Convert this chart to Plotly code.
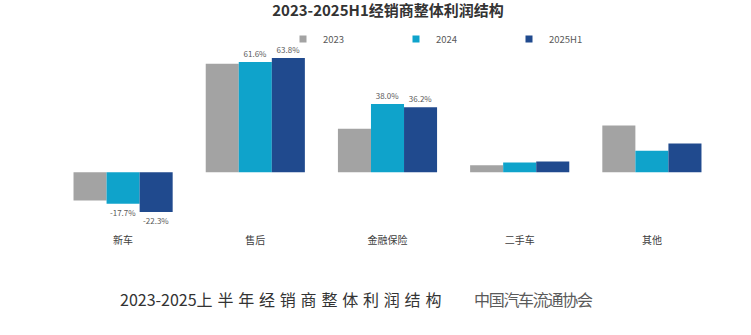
import plotly.graph_objects as go

categories = ["新车", "售后", "金融保险", "二手车", "其他"]
series_names = ["2023", "2024", "2025H1"]
v2023 = [-15.8, 60.6, 24.2, 3.9, 26.0]
v2024 = [-17.7, 61.6, 38.0, 5.4, 12.0]
v2025 = [-22.3, 63.8, 36.2, 6.0, 16.0]
labels2023 = ["", "", "", "", ""]
labels2024 = ["-17.7%", "61.6%", "38.0%", "", ""]
labels2025 = ["-22.3%", "63.8%", "36.2%", "", ""]
colors = ["#A3A3A3", "#0FA3CB", "#204A8E"]

title_text = "2023-2025H1经销商整体利润结构"
caption_years = "2023-2025"
caption_rest = "上半年经销商整体利润结构"
caption_src = "中国汽车流通协会"

FONT = "Noto Sans CJK SC"

fig = go.Figure()
for name, vals, labs, col in zip(series_names, [v2023, v2024, v2025],
                                 [labels2023, labels2024, labels2025], colors):
    fig.add_trace(go.Bar(
        x=categories, y=vals, name=name, marker=dict(color=col, line=dict(width=0)),
        text=labs, textposition="outside", cliponaxis=False,
        textfont=dict(size=8, color="#595959", family=FONT),
        showlegend=False, legendgroup=name,
    ))
    fig.add_trace(go.Scatter(
        x=[None], y=[None], mode="markers", name=name, legendgroup=name,
        marker=dict(symbol="square", size=7, color=col), showlegend=True,
    ))

L, R, T, B = 57, 33, 54, 102
W, H = 751, 335
ph = H - T - B
pw = W - L - R

def px_x(p):
    return (p - L) / pw

def px_y(p):
    return (H - B - p) / ph

caption_html = (caption_years
                + '<span style="letter-spacing:4.8px">' + caption_rest + '</span>')
src_html = '<span style="letter-spacing:-1.3px">' + caption_src + '</span>'

fig.update_layout(
    width=W, height=H,
    margin=dict(l=L, r=R, t=T, b=B),
    paper_bgcolor="white", plot_bgcolor="white",
    barmode="group", bargap=0.25, bargroupgap=0,
    font=dict(family=FONT, color="#404040"),
    title=dict(text="<b>" + title_text + "</b>", x=388 / W, xanchor="center",
               xref="container", y=1 - 11 / H, yanchor="middle", yref="container",
               font=dict(size=15, color="#333333", family=FONT)),
    legend=dict(orientation="h", x=px_x(283), xanchor="left", y=px_y(39), yanchor="middle",
                font=dict(size=9.5, color="#595959", family=FONT),
                entrywidth=68, entrywidthmode="pixels", itemwidth=30,
                bgcolor="rgba(0,0,0,0)", traceorder="normal"),
    xaxis=dict(showgrid=False, showline=False, ticks="", zeroline=False,
               tickfont=dict(size=10, color="#404040", family=FONT)),
    yaxis=dict(range=[-34, 66], visible=False, showgrid=False, zeroline=False),
    annotations=[
        dict(text=caption_html, xref="paper", yref="paper", x=px_x(118), y=px_y(299),
             xanchor="left", yanchor="middle", showarrow=False,
             font=dict(size=16, color="#333333", family=FONT)),
        dict(text=src_html, xref="paper", yref="paper", x=px_x(472), y=px_y(299),
             xanchor="left", yanchor="middle", showarrow=False,
             font=dict(size=16, color="#5A5A5A", family=FONT)),
    ],
)

fig.write_html("out.html")
